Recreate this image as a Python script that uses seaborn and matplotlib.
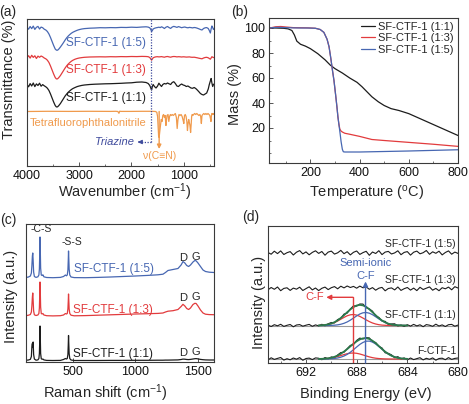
import numpy as np
import matplotlib
matplotlib.use("Agg")
import matplotlib.pyplot as plt
import seaborn as sns
from matplotlib.ticker import MultipleLocator

# ---------------- (a) FTIR ----------------
ftir_wn = [4000, 3970, 3940, 3910, 3880, 3850, 3820, 3790, 3760, 3730,
           3700, 3670, 3640, 3610, 3580, 3550, 3520, 3490, 3460, 3440,
           3425, 3410, 3390, 3360, 3330, 3300, 3270, 3240, 3210, 3180,
           3150, 3120, 3080, 3040, 3000, 2950, 2900, 2800, 2700, 2600,
           2500, 2400, 2300, 2200, 2100, 2000, 1900, 1800, 1720, 1680,
           1650, 1630, 1615, 1600, 1585, 1560, 1530, 1500, 1475, 1450,
           1425, 1400, 1370, 1340, 1310, 1280, 1250, 1220, 1190, 1160,
           1130, 1100, 1070, 1040, 1010, 980, 950, 920, 890, 860,
           830, 800, 770, 740, 710, 680, 650, 620, 590, 560,
           530, 510, 490, 475, 460, 445, 430, 420]
ftir_15 = [0.8, -1.2, 1.5, -0.6, 1.9, -1.4, 0.7, 1.6, -1.0, 0.9,
           0.3, -1.2, -2.0, -3.5, -6.0, -9.5, -13.5, -17.5, -21.0, -22.0,
           -22.3, -22.0, -21.0, -19.0, -16.8, -14.5, -12.0, -9.8, -8.0, -6.5,
           -5.2, -4.2, -3.2, -2.3, -1.6, -1.0, -0.6, -0.2, 0.0, 0.3,
           0.2, 0.4, 0.3, 0.6, 0.5, 0.8, 0.6, 1.0, 1.2, 0.9,
           0.2, -1.5, -3.5, -2.5, -1.0, -0.3, 0.2, 0.5, 0.8, 0.4,
           1.2, 0.6, -0.5, 0.8, 1.5, 0.4, -0.4, 1.0, 1.6, 1.2,
           0.6, 1.4, 0.9, 0.3, 0.7, 1.0, 0.5, 0.2, 0.6, 0.4,
           0.1, 0.5, 0.3, -0.2, -0.8, -1.5, -2.0, -0.5, 0.2, 0.4,
           -0.5, -2.5, -5.0, -1.0, 2.0, 0.5, -1.5, -1.0]
ftir_13 = [-0.8, 1.3, -1.1, 1.7, -0.4, 1.2, -1.5, 0.9, -0.3, 1.0,
           0.2, -1.0, -1.8, -3.2, -5.5, -9.0, -13.0, -17.0, -20.5, -21.8,
           -22.0, -21.6, -20.5, -18.5, -16.0, -13.5, -11.0, -8.8, -7.0, -5.5,
           -4.2, -3.2, -2.2, -1.5, -1.0, -0.6, -0.3, 0.0, 0.1, 0.2,
           0.1, 0.3, 0.2, 0.4, 0.3, 0.5, 0.4, 0.6, 0.5, 0.3,
           -0.5, -2.0, -3.2, -2.0, -0.8, -0.2, 0.2, 0.3, 0.1, 0.2,
           0.4, 0.1, -0.2, 0.3, 0.5, 0.1, -0.2, 0.3, 0.5, 0.4,
           0.1, 0.3, 0.2, 0.0, 0.2, 0.1, -0.1, 0.0, 0.1, -0.2,
           -0.3, -0.2, -0.5, -0.8, -1.2, -1.5, -1.8, -1.0, -0.5, -0.3,
           -0.8, -1.5, -2.2, -1.0, 0.3, -0.2, -0.6, -0.4]
ftir_11 = [0.6, -1.8, 1.4, -1.0, 2.0, -1.6, 1.1, -0.5, 1.8, -1.2,
           0.4, -0.8, -1.8, -3.2, -5.5, -9.0, -13.0, -17.0, -20.5, -21.8,
           -22.0, -21.6, -20.5, -18.5, -16.0, -13.5, -11.0, -9.0, -7.2, -5.8,
           -4.5, -3.5, -2.5, -1.6, -1.0, -0.4, 0.0, 0.5, 0.8, 1.0,
           1.2, 1.3, 1.5, 1.7, 2.0, 2.2, 2.8, 3.0, 2.5, 1.5,
           -0.5, -3.0, -5.0, -1.5, 0.5, -1.5, -3.0, -1.0, 1.8, 0.0,
           -1.5, 0.5, 1.5, 1.0, 2.0, 1.2, 0.5, 2.5, 3.3, 1.5,
           -1.0, -1.5, 0.0, 1.0, 0.0, -0.5, -1.5, -1.0, -2.0, -3.0,
           -3.3, -2.5, -3.5, -5.0, -6.7, -8.5, -9.5, -10.0, -9.0, -8.0,
           -4.0, 0.5, 4.0, 6.5, 2.0, -1.5, 0.5, 1.0]
tfpn_wn = [4000, 3600, 3200, 2800, 2400, 2300, 2260, 2240, 2225, 2200,
           2000, 1800, 1600, 1540, 1515, 1500, 1490, 1480, 1470, 1460,
           1445, 1430, 1415, 1400, 1385, 1370, 1355, 1340, 1330, 1320,
           1300, 1285, 1270, 1255, 1240, 1220, 1200, 1180, 1160, 1140,
           1125, 1110, 1090, 1070, 1050, 1030, 1010, 998, 985, 970,
           955, 940, 928, 916, 904, 892, 880, 868, 856, 848,
           838, 825, 810, 790, 770, 750, 730, 710, 690, 675,
           662, 650, 635, 615, 595, 575, 555, 535, 515, 500,
           488, 478, 469, 460, 450, 440, 430, 420]
tfpn = [0, 0.2, 0.1, 0.2, 0.1, 0.2, 0.0, -1.8, 0.3, 0.1,
        0.1, 0.2, 0.2, 0.0, -0.8, -5, -15, -25, -26, -21,
        -14, -8, -10, -4, -3, -6, -4, -14, -9, -4,
        -3, -10, -5, -3, -4, -3, -4, -3, -2, -6,
        -17, -8, -3, -4, -3, -5, -9, -12, -4, -3,
        -5, -10, -19, -12, -8, -11, -14, -21, -12, -5,
        -3, -4, -3, -2, -3, -2, -3, -4, -3, -5,
        -12, -4, -3, -2, -3, -2, -3, -2, -3, -4,
        -7, -10, -4, -2, -3, -2, -3, -2]

# ---------------- (b) TGA ----------------
tga_t_11 = [35, 60, 90, 110, 125, 135, 145, 160, 180, 200, 230, 260, 280, 300, 330,
            360, 390, 410, 430, 450, 476, 500, 528, 560, 600, 640, 680, 720, 760, 800]
tga_m_11 = [100, 100, 99.8, 99.3, 98, 94.5, 89.5, 87, 85.5, 83.5, 79.5, 74.5, 70.5, 67.5, 64,
            60, 56.5, 53, 49, 45, 41, 38, 35.5, 34, 31.5, 28, 24.5, 21, 17.5, 14]
tga_t_13 = [35, 60, 80, 100, 130, 160, 190, 220, 240, 255, 268, 276, 283, 290, 296,
            303, 308, 312, 316, 320, 325, 330, 340, 360, 400, 450, 500, 600, 700, 800]
tga_m_13 = [100, 101, 101.2, 100.8, 100.3, 100.2, 100.1, 99.8, 98.8, 96.5, 91, 85, 76, 66, 58,
            46, 37, 29, 23, 19, 17.5, 16.8, 15.8, 15, 13.3, 10.8, 10, 8.5, 7, 5.3]
tga_t_15 = [35, 60, 80, 100, 130, 160, 190, 220, 240, 255, 268, 276, 283, 290, 296,
            303, 308, 312, 316, 320, 325, 330, 334, 340, 400, 500, 600, 700, 800]
tga_m_15 = [100, 100.5, 100.5, 100.3, 100.1, 100, 100, 99.8, 98.8, 96.5, 91, 85, 76, 66, 58,
            46, 37, 29, 23, 17, 9, 3, 1, 0.8, 0.8, 1.2, 1.6, 2.1, 2.6]

# ---------------- (c) Raman ----------------
raman_shift = [125, 145, 160, 168, 172, 176, 179, 182, 186, 192,
               205, 220, 228, 232, 235, 237, 239, 242, 247, 254,
               260, 268, 290, 340, 400, 425, 440, 448, 455, 460,
               463, 465, 467, 470, 475, 485, 510, 600, 700, 800,
               900, 1000, 1100, 1180, 1220, 1240, 1260, 1300, 1340, 1365,
               1380, 1395, 1410, 1425, 1440, 1460, 1475, 1485, 1500, 1520,
               1540, 1560, 1590, 1628]
raman_15 = [0.5, 1.0, 2.0, 5.0, 12, 22, 25, 18, 6, 1.5,
            0.6, 1.2, 3.0, 9, 25, 41, 30, 10, 3.0, 2.5,
            3.2, 1.2, 0.5, 0.3, 0.6, 1.5, 3.0, 2.2, 3.0, 8,
            18, 27, 20, 9, 3, 1.0, 0.4, 0.3, 0.6, 1.0,
            1.5, 2.0, 2.6, 3.2, 3.8, 5.5, 7.5, 8.5, 9.5, 13,
            16.5, 15, 12.5, 11.5, 13, 16, 17.5, 17.2, 15, 11.5,
            8, 6.5, 5.8, 5.5]
raman_13 = [0.3, 0.8, 1.5, 4.0, 10, 19, 23, 16, 5, 1.2,
            0.5, 1.0, 2.5, 8, 22, 34, 26, 9, 2.5, 2.0,
            2.5, 1.0, 0.3, 0.1, 0.3, 1.0, 2.5, 2.0, 2.5, 7,
            15, 22, 16, 7, 2.5, 0.8, 0.2, 0.4, 0.8, 1.2,
            1.6, 2.0, 2.3, 2.6, 3.0, 4.0, 4.8, 5.3, 6.5, 9.5,
            11.7, 10, 7.5, 6.5, 8, 11.5, 12.7, 12.5, 10, 6,
            3, 1.8, 1.4, 1.3]
raman_11 = [0.2, 0.5, 1.2, 4.0, 14, 17, 13, 18.5, 6, 1.5,
            0.3, 0.6, 2.0, 7, 20, 34.5, 24, 7, 1.8, 1.2,
            1.5, 0.6, 0.1, 0.0, 0.1, 1.0, 2.0, 1.5, 2.0, 6,
            16, 25, 17, 7, 2, 0.5, 0.0, 0.0, 0.0, 0.1,
            0.1, 0.2, 0.2, 0.3, 0.3, 0.4, 0.4, 0.5, 0.6, 1.0,
            1.4, 1.3, 1.0, 0.9, 1.1, 1.5, 1.8, 1.9, 1.6, 1.1,
            0.8, 0.6, 0.5, 0.5]

# ---------------- (d) XPS F1s ----------------
xps_be = [695.0, 694.75, 694.5, 694.25, 694.0, 693.75, 693.5, 693.25, 693.0, 692.75,
          692.5, 692.25, 692.0, 691.75, 691.5, 691.25, 691.0, 690.75, 690.5, 690.25,
          690.0, 689.75, 689.5, 689.25, 689.0, 688.75, 688.5, 688.25, 688.0, 687.75,
          687.5, 687.25, 687.0, 686.75, 686.5, 686.25, 686.0, 685.75, 685.5, 685.25,
          685.0, 684.75, 684.5, 684.25, 684.0, 683.75, 683.5, 683.25, 683.0, 682.75,
          682.5, 682.25, 682.0, 681.75, 681.5, 681.25, 681.0, 680.75, 680.5, 680.25,
          680.0]
xps_15 = [0.5, -1.2, 1.8, -0.6, 2.1, -1.5, 0.3, 1.4, -2.0, 0.8,
          2.4, -0.9, 1.1, -1.8, 0.6, 2.2, -0.4, 1.5, -2.2, 0.9,
          1.9, -1.1, 0.2, 2.6, -0.7, 1.3, -1.9, 0.7, 2.0, -1.4,
          0.4, 1.7, -2.3, 1.0, -0.5, 2.3, -1.6, 0.9, 1.6, -1.0,
          0.1, 2.2, -1.7, 0.6, 1.4, -2.1, 0.8, 1.9, -0.8, 0.3,
          2.5, -1.3, 1.2, -0.3, 1.8, -1.9, 0.5, 2.1, -1.2, 0.9,
          -0.4]
xps_13 = [-0.8, 1.5, -0.3, 2.0, -1.7, 0.6, 1.2, -1.4, 0.9, -0.2,
          1.8, -1.5, 0.4, 2.2, -0.9, 1.0, -1.6, 0.7, 1.9, -0.6,
          1.3, 2.4, 0.2, 2.8, 1.1, 3.0, 1.5, 2.6, 0.8, 2.9,
          1.2, 2.1, -0.3, 1.4, -1.2, 0.8, 1.6, -1.8, 0.5, 1.1,
          -0.9, 2.0, -1.4, 0.3, 1.5, -1.1, 0.9, -1.6, 1.7, -0.5,
          0.8, 2.1, -1.2, 0.6, -1.7, 1.3, 0.2, 1.9, -0.8, 2.3,
          1.0]
xps_11 = [0.4, -1.0, 0.8, -0.3, 1.2, -0.9, 0.2, 1.0, -1.3, 0.5,
          0.9, -0.7, 0.3, 1.1, -0.8, 0.6, -0.4, 1.2, -0.25, 1.7,
          3.0, 2.6, 5.95, 7.15, 11.4, 12.35, 16.55, 19.65, 19.4, 21.5,
          21.4, 17.8, 16.6, 14.3, 9.15, 8.1, 4.5, 4.15, 0.95, 1.55,
          1.7, -0.45, 0.5, -0.95, 0.8, -0.6, 1.1, -0.4, 0.7, -1.2,
          0.9, 0.3, -0.8, 1.3, -0.5, 0.6, -1.0, 0.8, 1.1, -0.7,
          0.4]
xps_f = [-0.9, 1.2, -0.4, 0.6, 1.5, -1.1, 0.3, -0.8, 1.0, -0.2,
         1.4, -1.3, 0.5, 0.9, -0.6, 1.1, 0.75, -0.73, 1.45, 0.23,
         2.07, 1.19, 4.05, 6.45, 6.71, 10.3, 13.6, 14.5, 18.6, 20.9,
         20.05, 21.35, 21.1, 17.35, 16.5, 12.55, 11.05, 6.2, 5.65, 4.15,
         1.2, 2.35, 0.1, 1.1, -0.85, 1.0, -0.6, 0.4, 1.3, -0.9,
         0.7, -0.3, 1.1, -1.2, 0.5, 0.8, -0.7, 1.4, -0.4, 0.6,
         1.0]
fit_be = xps_be[16:45]
fit_11_cf = [0.1, 0.3, 0.55, 1.05, 1.85, 3.0, 4.5, 6.3, 8.1, 9.7,
             10.7, 11.0, 10.4, 9.1, 7.4, 5.6, 3.9, 2.5, 1.5, 0.8,
             0.4, 0.2, 0.1, 0, 0, 0, 0, 0, 0]
fit_11_si = [0, 0, 0, 0.06, 0.15, 0.3, 0.65, 1.25, 2.2, 3.55,
             5.35, 7.45, 9.6, 11.5, 12.7, 13.0, 12.3, 10.8, 8.75, 6.6,
             4.6, 2.95, 1.75, 0.95, 0.5, 0.25, 0.1, 0.05, 0]
fit_11_env = [0.1, 0.3, 0.55, 1.1, 2.0, 3.3, 5.15, 7.55, 10.3, 13.25,
              16.05, 18.45, 20.0, 20.6, 20.1, 18.6, 16.2, 13.3, 10.25, 7.4,
              5.0, 3.15, 1.85, 0.95, 0.5, 0.25, 0.1, 0.05, 0]
fit_f_cf = [0.05, 0.15, 0.3, 0.6, 1.0, 1.65, 2.45, 3.45, 4.45, 5.3,
            5.85, 6.0, 5.7, 5.0, 4.05, 3.05, 2.1, 1.35, 0.8, 0.45,
            0.25, 0.1, 0.05, 0, 0, 0, 0, 0, 0]
fit_f_si = [0, 0.02, 0.05, 0.13, 0.27, 0.54, 1.0, 1.8, 2.96, 4.6,
            6.75, 9.3, 12.0, 14.6, 16.6, 17.8, 17.9, 16.9, 15.0, 12.5,
            9.8, 7.2, 5.0, 3.25, 2.0, 1.15, 0.6, 0.3, 0.15]
fit_f_env = [0.05, 0.17, 0.35, 0.73, 1.27, 2.19, 3.45, 5.25, 7.41, 9.9,
             12.6, 15.3, 17.7, 19.6, 20.65, 20.85, 20.0, 18.25, 15.8, 12.95,
             10.05, 7.3, 5.05, 3.25, 2.0, 1.15, 0.6, 0.3, 0.15]

labels = ["SF-CTF-1 (1:1)", "SF-CTF-1 (1:3)", "SF-CTF-1 (1:5)"]

BLACK = "#1c1c1c"
RED = "#e23b3d"
BLUE = "#4767b2"
ORANGE = "#f09a4c"
GREEN = "#2b7a4b"
NAVY = "#3e4a9c"
GREY = "#9a9a9a"

sns.set_theme(style="ticks")
plt.rcParams["font.family"] = ["Liberation Sans", "DejaVu Sans"]
plt.rcParams.update({
    "mathtext.fontset": "custom",
    "mathtext.rm": "Liberation Sans",
    "mathtext.it": "Liberation Sans:italic",
    "xtick.direction": "in", "ytick.direction": "in",
    "xtick.major.size": 3, "ytick.major.size": 3,
    "xtick.minor.size": 1.6, "ytick.minor.size": 1.6,
    "xtick.major.width": 0.6, "ytick.major.width": 0.6,
    "xtick.minor.width": 0.5, "ytick.minor.width": 0.5,
    "xtick.labelsize": 9, "ytick.labelsize": 9,
    "xtick.major.pad": 3.0, "ytick.major.pad": 2.5,
    "axes.linewidth": 0.8, "axes.edgecolor": "#3a3a3a",
    "xtick.color": "#3a3a3a", "ytick.color": "#3a3a3a",
    "xtick.labelcolor": "#111111", "ytick.labelcolor": "#111111",
})

W, H = 469, 404
fig = plt.figure(figsize=(W / 100, H / 100), dpi=100)


def box(l, t, r, b):
    return fig.add_axes([l / W, 1 - b / H, (r - l) / W, (b - t) / H])


ax_a = box(27, 19, 214, 166)
ax_b = box(269, 18, 458, 163)
ax_c = box(26, 224, 214, 362)
ax_d = box(268, 226, 458, 363)
for ax in (ax_a, ax_b, ax_c, ax_d):
    for s in ax.spines.values():
        s.set_visible(True)

lw = 0.9
LBL = 10.5

# (a)
for vals, off, col in [(ftir_15, 138, BLUE), (ftir_13, 109, RED), (ftir_11, 81, BLACK)]:
    sns.lineplot(x=ftir_wn, y=np.array(vals) + off, ax=ax_a, color=col, lw=lw, legend=False)
sns.lineplot(x=tfpn_wn, y=np.array(tfpn) + 54.5, ax=ax_a, color=ORANGE, lw=lw, legend=False)
ax_a.set_xlim(4000, 420)
ax_a.set_ylim(0, 147)
ax_a.set_xticks([4000, 3000, 2000, 1000])
ax_a.xaxis.set_minor_locator(MultipleLocator(500))
ax_a.set_yticks([])
ax_a.text(3260, 123, labels[2], color=BLUE, fontsize=8.5, va="center")
ax_a.text(3260, 96, labels[1], color=RED, fontsize=8.5, va="center")
ax_a.text(3260, 68, labels[0], color=BLACK, fontsize=8.5, va="center")
ax_a.text(3945, 43, "Tetrafluorophthalonitrile", color=ORANGE, fontsize=8, va="center")
ax_a.plot([1620, 1620], [24, 147], color=NAVY, lw=0.9, ls=(0, (1, 1.2)))
ax_a.plot([1620, 1850], [24, 24], color=NAVY, lw=0.9, ls=(0, (1, 1.2)))
ax_a.annotate("", xy=(1880, 24), xytext=(1840, 24),
              arrowprops=dict(arrowstyle="-|>", color=NAVY, lw=0.8, mutation_scale=6,
                              shrinkA=0, shrinkB=0))
ax_a.text(1960, 24, "Triazine", color=NAVY, fontsize=8, style="italic", ha="right", va="center")
ax_a.annotate("", xy=(1470, 17), xytext=(1470, 54.5),
              arrowprops=dict(arrowstyle="-|>", color=ORANGE, lw=1.0, mutation_scale=6,
                              shrinkA=0, shrinkB=0))
ax_a.text(1460, 10, "ν(C≡N)", color=ORANGE, fontsize=7.5, ha="center", va="center")
ax_a.set_xlabel("Wavenumber (cm$^{-1}$)", fontsize=LBL, va="center")
ax_a.xaxis.set_label_coords(0.524, -0.18)
ax_a.set_ylabel("Transmittance (%)", fontsize=LBL, va="center")
ax_a.yaxis.set_label_coords(-0.095, 0.59)

# (b)
sns.lineplot(x=tga_t_11, y=tga_m_11, ax=ax_b, color=BLACK, lw=lw, label=labels[0])
sns.lineplot(x=tga_t_13, y=tga_m_13, ax=ax_b, color=RED, lw=lw, label=labels[1])
sns.lineplot(x=tga_t_15, y=tga_m_15, ax=ax_b, color=BLUE, lw=lw, label=labels[2])
ax_b.set_xlim(32, 800)
ax_b.set_ylim(-8, 108)
ax_b.set_xticks([200, 400, 600, 800])
ax_b.xaxis.set_minor_locator(MultipleLocator(100))
ax_b.set_yticks([20, 40, 60, 80, 100])
ax_b.set_yticks([0, 10, 30, 50, 70, 90], minor=True)
ax_b.legend(loc="upper right", frameon=False, fontsize=8, handlelength=1.3,
            handletextpad=0.3, labelspacing=0.12, borderpad=0.2, borderaxespad=0.15)
ax_b.set_xlabel("Temperature ($^{\\mathrm{o}}$C)", fontsize=LBL, va="center")
ax_b.xaxis.set_label_coords(0.518, -0.21)
ax_b.set_ylabel("Mass (%)", fontsize=LBL, va="center")
ax_b.yaxis.set_label_coords(-0.178, 0.476)

# (c)
for vals, off, col in [(raman_15, 84, BLUE), (raman_13, 46, RED), (raman_11, 1.5, BLACK)]:
    sns.lineplot(x=raman_shift, y=np.array(vals) + off, ax=ax_c, color=col, lw=lw, legend=False)
ax_c.set_xlim(125, 1628)
ax_c.set_ylim(0, 138)
ax_c.set_xticks([500, 1000, 1500])
ax_c.set_yticks([])
ax_c.text(245, 133, "-C-S", fontsize=7.5, ha="center", va="center")
ax_c.text(489, 120, "-S-S", fontsize=7.5, ha="center", va="center")
ax_c.text(510, 93.3, labels[2], color=BLUE, fontsize=8.5, va="center")
ax_c.text(500, 52, labels[1], color=RED, fontsize=8.5, va="center")
ax_c.text(500, 8.5, labels[0], color=BLACK, fontsize=8.5, va="center")
for yy in (104, 64, 8.5):
    ax_c.text(1385, yy, "D", fontsize=8, ha="center", va="center")
    ax_c.text(1485, yy + 1.5, "G", fontsize=8, ha="center", va="center")
ax_c.set_xlabel("Raman shift (cm$^{-1}$)", fontsize=LBL, va="center")
ax_c.xaxis.set_label_coords(0.42, -0.225)
ax_c.set_ylabel("Intensity (a.u.)", fontsize=LBL, va="center")
ax_c.yaxis.set_label_coords(-0.08, 0.475)

# (d)
for off in (37.5, 4):
    ax_d.axhline(off, color=GREY, lw=0.8)
sns.lineplot(x=xps_be, y=np.array(xps_15) + 110, ax=ax_d, color=BLACK, lw=0.8, legend=False)
sns.lineplot(x=xps_be, y=np.array(xps_13) + 74, ax=ax_d, color=BLACK, lw=0.8, legend=False)
for data, cf, si, env, off in [(xps_11, fit_11_cf, fit_11_si, fit_11_env, 37.5),
                               (xps_f, fit_f_cf, fit_f_si, fit_f_env, 4)]:
    sns.lineplot(x=xps_be, y=np.array(data) + off, ax=ax_d, color=BLACK, lw=0.8, legend=False)
    sns.lineplot(x=fit_be, y=np.array(cf) + off, ax=ax_d, color=RED, lw=0.9, legend=False)
    sns.lineplot(x=fit_be, y=np.array(si) + off, ax=ax_d, color=BLUE, lw=0.9, legend=False)
    sns.lineplot(x=fit_be, y=np.array(env) + off, ax=ax_d, color=GREEN, lw=1.3, legend=False)
ax_d.plot([688.3, 688.3], [0, 65.7], color=RED, lw=1.0)
ax_d.annotate("", xy=(690.4, 65.7), xytext=(688.3, 65.7),
              arrowprops=dict(arrowstyle="-|>", color=RED, lw=1.0, mutation_scale=7,
                              shrinkA=0, shrinkB=0))
ax_d.text(690.55, 65.7, "C-F", color=RED, fontsize=8, ha="right", va="center")
ax_d.annotate("", xy=(687.3, 81.5), xytext=(687.3, 0),
              arrowprops=dict(arrowstyle="-|>", color=BLUE, lw=1.0, mutation_scale=7,
                              shrinkA=0, shrinkB=0))
ax_d.text(687.3, 87, "C-F", color=BLUE, fontsize=8, ha="center", va="center")
ax_d.text(687.3, 99.7, "Semi-ionic", color=BLUE, fontsize=8, ha="center", va="center")
ax_d.text(680.15, 119, labels[2], fontsize=7.5, ha="right", va="center")
ax_d.text(680.15, 83, labels[1], fontsize=7.5, ha="right", va="center")
ax_d.text(680.15, 48, labels[0], fontsize=7.5, ha="right", va="center")
ax_d.text(680.15, 11.7, "F-CTF-1", fontsize=7.5, ha="right", va="center")
ax_d.set_xlim(695, 680)
ax_d.set_ylim(0, 137)
ax_d.set_xticks([692, 688, 684, 680])
ax_d.xaxis.set_minor_locator(MultipleLocator(2))
ax_d.set_yticks([])
ax_d.set_xlabel("Binding Energy (eV)", fontsize=LBL, va="center")
ax_d.xaxis.set_label_coords(0.513, -0.225)
ax_d.set_ylabel("Intensity (a.u.)", fontsize=LBL, va="center")
ax_d.yaxis.set_label_coords(-0.045, 0.44)

for txt, x, y in [("(a)", 8, 12), ("(b)", 240, 12), ("(c)", 8, 220), ("(d)", 251, 217)]:
    fig.text(x / W, 1 - y / H, txt, fontsize=10, ha="center", va="center")

fig.savefig("out.png", dpi=100)
